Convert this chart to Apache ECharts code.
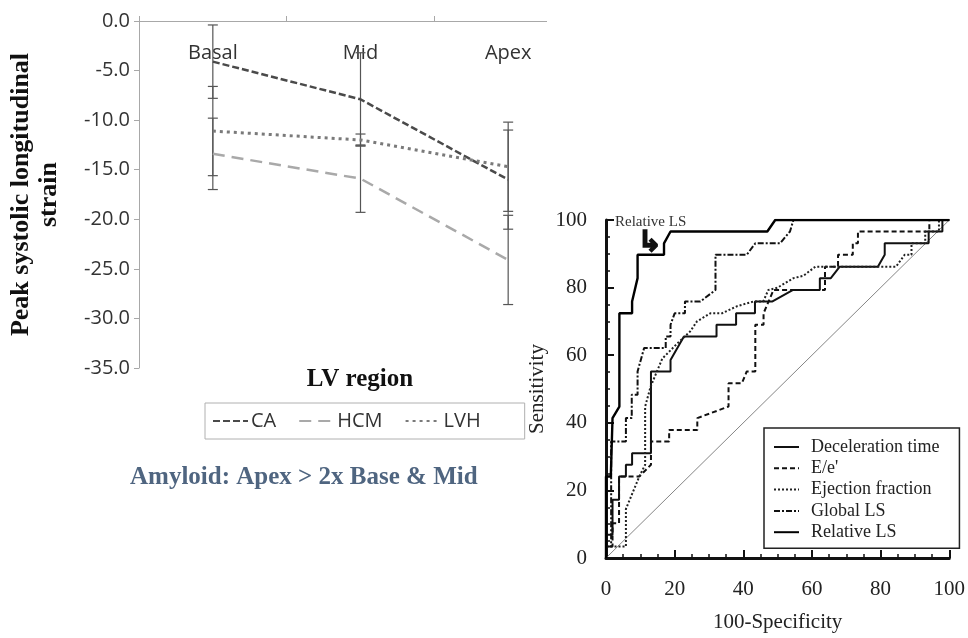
<!DOCTYPE html>
<html>
<head>
<meta charset="utf-8">
<script src="https://cdn.jsdelivr.net/npm/echarts@6/dist/echarts.min.js"></script>
<style>
  html, body { margin: 0; padding: 0; background: #fff; }
  #chart { width: 968px; height: 638px; }
</style>
</head>
<body>
<div id="chart"></div>
<script>
// left panel: strain by LV region
const regions = ['Basal', 'Mid', 'Apex'];
const caMean = [-4.1, -7.9, -16.0];
const caSd = [3.7, 4.7, 5.0];
const hcmMean = [-13.4, -15.9, -24.1];
const hcmSd = [3.6, 3.4, 4.5];
const lvhMean = [-11.1, -12.0, -14.7];
const lvhSd = [4.5, 0.6, 4.5];

// right panel: ROC curves [100-specificity, sensitivity]
const decelTime = [[0,0],[0,6.9],[1.9,6.9],[1.9,17.2],[3.8,17.2],[3.8,24.1],[5.8,24.1],[5.8,27.6],[7.6,27.6],[7.6,31],[13.1,31],[13.1,55.2],[18.8,55.2],[18.8,58.6],[22.7,65.5],[32.2,65.5],[32.2,69],[37.9,69],[37.9,72.4],[43.4,72.4],[43.4,75.9],[48.5,75.9],[54.5,79.3],[62.3,79.3],[62.3,82.8],[65.5,82.8],[68.1,86.2],[79.2,86.2],[81.2,89.7],[81.2,93.1],[94,93.1],[94,96.6],[98,96.6],[98,100],[100,100]];
const eOverE = [[0,0],[0,3.4],[1.9,3.4],[1.9,10.3],[3.8,10.3],[3.8,24.1],[9.7,24.1],[13.1,27.6],[13.1,34.5],[18.4,34.5],[18.4,37.9],[26.6,37.9],[26.6,41.4],[35.7,44.8],[35.7,51.7],[39.6,51.7],[41,55.2],[43.5,55.2],[43.5,69],[45.9,69],[45.9,72.4],[48.8,79.3],[63.8,79.3],[63.8,86.2],[67.6,86.2],[67.6,89.7],[71.9,89.7],[71.9,93.1],[73.4,93.1],[73.4,96.6],[94.2,96.6],[94.2,100],[100,100]];
const ejectionFraction = [[0,0],[0,3.4],[5.8,3.4],[5.8,14.5],[9.7,24.1],[11.4,27.6],[11.4,44.8],[13,50.7],[16.4,59],[20.8,63.5],[24.5,67],[26.5,70],[30.4,72.4],[33.8,72.4],[38.2,74.5],[43,75.9],[45.8,75.9],[47.3,79.3],[50,80],[54.6,82.8],[57.5,83.5],[61,86.2],[84.5,86.2],[87,89.7],[89,89.7],[89,93.1],[93,93.1],[93,96.6],[97,96.6],[97,100],[100,100]];
const globalLS = [[0,0],[0,3.4],[1.5,3.4],[1.5,34.5],[5.8,34.5],[5.8,41.4],[7.5,41.4],[7.5,48.3],[9.2,48.3],[9.2,55.2],[11.1,62.1],[17.4,62.1],[17.4,65.5],[18.8,65.5],[18.8,69],[20,72.4],[23,72.4],[23,75.9],[27.5,75.9],[31.9,79.3],[31.9,89.7],[41,89.7],[43.5,93.1],[50.7,93.1],[53.6,96.6],[54.6,100],[100,100]];
const relativeLS = [[0,0],[0,24.1],[1.4,24.1],[1.9,41.4],[3.9,44.8],[3.9,72.4],[7.6,72.4],[7.6,75.9],[9.2,82.8],[9.2,89.7],[16.9,89.7],[16.9,93.1],[18.8,96.6],[47,96.6],[49.3,100],[100,100]];
const chanceLine = [[0,0],[100,100]];

function errorRows(mean, sd){
  return mean.map((m, i) => [i, m - sd[i], m + sd[i]]);
}

function renderErrorBar(params, api){
  const x = api.value(0);
  const lo = api.coord([x, api.value(1)]);
  const hi = api.coord([x, api.value(2)]);
  const cap = 5;
  const st = { stroke: '#555', lineWidth: 1.2 };
  return {
    type: 'group',
    children: [
      { type: 'line', shape: { x1: lo[0], y1: lo[1], x2: hi[0], y2: hi[1] }, style: st },
      { type: 'line', shape: { x1: lo[0] - cap, y1: lo[1], x2: lo[0] + cap, y2: lo[1] }, style: st },
      { type: 'line', shape: { x1: hi[0] - cap, y1: hi[1], x2: hi[0] + cap, y2: hi[1] }, style: st }
    ]
  };
}

const serif = '"Liberation Serif", "Times New Roman", serif';
const sans = '"Open Sans", "Liberation Sans", sans-serif';

var chart = echarts.init(document.getElementById('chart'));

chart.setOption({
  animation: false,
  backgroundColor: '#fff',
  grid: [
    { left: 139, top: 21, width: 443, height: 347 },
    { left: 606, top: 220, width: 344, height: 346 }
  ],
  legend: [
    {
      data: ['CA', 'HCM', 'LVH'],
      left: 205, top: 403,
      orient: 'horizontal',
      itemWidth: 35, itemHeight: 14, itemGap: 22,
      padding: [8, 44, 8, 7],
      itemStyle: { opacity: 0 },
      borderColor: '#b0b0b0', borderWidth: 1,
      textStyle: { fontFamily: sans, fontSize: 20, color: '#333', padding: [0, 0, 0, -2] }
    },
    {
      data: ['Deceleration time', 'E/e\'', 'Ejection fraction', 'Global LS', 'Relative LS'],
      left: 764, top: 428,
      orient: 'vertical',
      itemWidth: 25, itemHeight: 14, itemGap: 3.3,
      padding: [10, 20, 7, 9],
      itemStyle: { opacity: 0 },
      borderColor: '#222', borderWidth: 1.5,
      backgroundColor: '#fff',
      textStyle: { fontFamily: serif, fontSize: 18, color: '#222', padding: [0, 0, 0, 7] }
    }
  ],
  xAxis: [
    {
      gridIndex: 0,
      type: 'category',
      data: regions,
      position: 'top',
      axisLine: { lineStyle: { color: '#a8a8a8', width: 1 } },
      axisTick: { show: true, length: 5, lineStyle: { color: '#a8a8a8' } },
      axisLabel: { inside: true, margin: 22, fontFamily: sans, fontSize: 20, color: '#333' },
      splitLine: { show: false }
    },
    {
      gridIndex: 1,
      type: 'value',
      min: 0, max: 100, interval: 20,
      offset: 11,
      name: '100-Specificity',
      nameLocation: 'middle',
      nameGap: 43,
      nameTextStyle: { fontFamily: serif, fontSize: 21, color: '#222' },
      axisLine: { lineStyle: { color: '#111', width: 3 } },
      axisTick: { inside: true, length: 8, lineStyle: { color: '#111', width: 2 } },
      minorTick: { show: true, splitNumber: 4, length: 4, lineStyle: { color: '#111', width: 1.5 } },
      axisLabel: { margin: 10, fontFamily: serif, fontSize: 21, color: '#222' },
      splitLine: { show: false }
    }
  ],
  yAxis: [
    {
      gridIndex: 0,
      type: 'value',
      min: -35, max: 0, interval: 5,
      name: 'Peak systolic longitudinal\nstrain',
      nameLocation: 'middle',
      nameGap: 76,
      nameRotate: 90,
      nameTextStyle: { fontFamily: serif, fontSize: 26, fontWeight: 'bold', color: '#111', lineHeight: 28 },
      axisLine: { show: true, lineStyle: { color: '#a8a8a8', width: 1 } },
      axisTick: { show: true, length: 5, lineStyle: { color: '#a8a8a8' } },
      axisLabel: { margin: 9, fontFamily: sans, fontSize: 20, color: '#333', formatter: v => v.toFixed(1) },
      splitLine: { show: false }
    },
    {
      gridIndex: 1,
      type: 'value',
      min: 0, max: 100, interval: 20,
      offset: 11,
      name: 'Sensitivity',
      nameLocation: 'middle',
      nameGap: 47,
      nameTextStyle: { fontFamily: serif, fontSize: 21, color: '#222' },
      axisLine: { lineStyle: { color: '#111', width: 3 } },
      axisTick: { inside: true, length: 8, lineStyle: { color: '#111', width: 2 } },
      minorTick: { show: true, splitNumber: 4, length: 4, lineStyle: { color: '#111', width: 1.5 } },
      axisLabel: { margin: 8, fontFamily: serif, fontSize: 21, color: '#222' },
      splitLine: { show: false }
    }
  ],
  graphic: [
    // crop the top axis like the source picture
    { type: 'rect', left: 547, top: 8, shape: { width: 50, height: 26 }, style: { fill: '#fff' }, z: 100 },
    { type: 'text', x: 360, y: 380, style: { text: 'LV region', font: 'bold 25px ' + serif, fill: '#111', align: 'center', verticalAlign: 'middle' } },
    { type: 'text', x: 130, y: 478, style: { text: 'Amyloid: Apex > 2x Base & Mid', font: 'bold 25px ' + serif, fill: '#4f6580', verticalAlign: 'middle' } },
    { type: 'text', left: 615, top: 215, style: { text: 'Relative LS', font: '15px ' + serif, fill: '#333' } },
    { type: 'text', left: 637, top: 228, style: { text: '↳', font: 'bold 29px "DejaVu Sans"', fill: '#111', stroke: '#111', lineWidth: 1.5 } }
  ],
  series: [
    {
      name: 'CA', type: 'line', xAxisIndex: 0, yAxisIndex: 0,
      data: caMean, symbol: 'none', color: '#4a4a4a',
      lineStyle: { width: 2.5, type: [7, 3], color: '#4a4a4a' }
    },
    {
      name: 'HCM', type: 'line', xAxisIndex: 0, yAxisIndex: 0,
      data: hcmMean, symbol: 'none', color: '#a9a9a9',
      lineStyle: { width: 2.5, type: [12, 7], color: '#a9a9a9' }
    },
    {
      name: 'LVH', type: 'line', xAxisIndex: 0, yAxisIndex: 0,
      data: lvhMean, symbol: 'none', color: '#7a7a7a',
      lineStyle: { width: 3, type: [3, 4], color: '#7a7a7a' }
    },
    { type: 'custom', xAxisIndex: 0, yAxisIndex: 0, renderItem: renderErrorBar, data: errorRows(caMean, caSd), z: 3 },
    { type: 'custom', xAxisIndex: 0, yAxisIndex: 0, renderItem: renderErrorBar, data: errorRows(hcmMean, hcmSd), z: 3 },
    { type: 'custom', xAxisIndex: 0, yAxisIndex: 0, renderItem: renderErrorBar, data: errorRows(lvhMean, lvhSd), z: 3 },
    {
      type: 'line', xAxisIndex: 1, yAxisIndex: 1, data: chanceLine,
      symbol: 'none', silent: true, lineStyle: { width: 0.8, color: '#666' }
    },
    {
      name: 'Deceleration time', type: 'line', xAxisIndex: 1, yAxisIndex: 1,
      data: decelTime, symbol: 'none', color: '#111',
      lineStyle: { width: 2, type: 'solid', color: '#111' }
    },
    {
      name: 'E/e\'', type: 'line', xAxisIndex: 1, yAxisIndex: 1,
      data: eOverE, symbol: 'none', color: '#111',
      lineStyle: { width: 2, type: [5, 3], color: '#111' }
    },
    {
      name: 'Ejection fraction', type: 'line', xAxisIndex: 1, yAxisIndex: 1,
      data: ejectionFraction, symbol: 'none', color: '#111',
      lineStyle: { width: 2, type: [2, 2], color: '#222' }
    },
    {
      name: 'Global LS', type: 'line', xAxisIndex: 1, yAxisIndex: 1,
      data: globalLS, symbol: 'none', color: '#111',
      lineStyle: { width: 2, type: [6, 2, 2, 2], color: '#111' }
    },
    {
      name: 'Relative LS', type: 'line', xAxisIndex: 1, yAxisIndex: 1,
      data: relativeLS, symbol: 'none', color: '#000',
      lineStyle: { width: 2.4, type: 'solid', color: '#000' }
    }
  ]
});
</script>
</body>
</html>
